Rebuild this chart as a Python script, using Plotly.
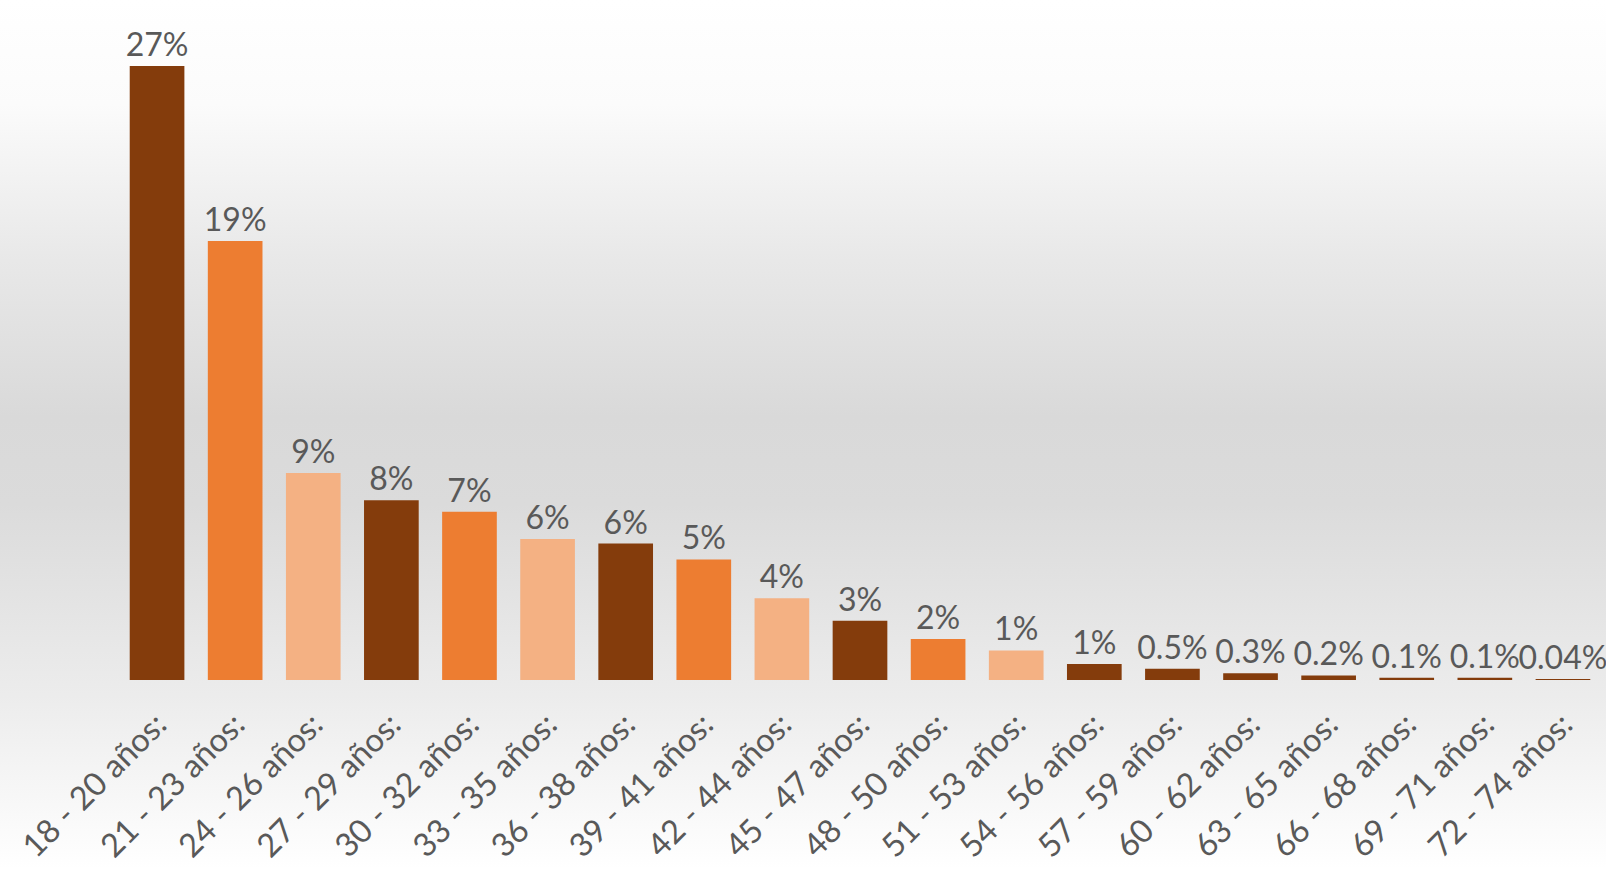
import base64
import plotly.graph_objects as go

categories = ["18 - 20 años:", "21 - 23 años:", "24 - 26 años:", "27 - 29 años:",
              "30 - 32 años:", "33 - 35 años:", "36 - 38 años:", "39 - 41 años:",
              "42 - 44 años:", "45 - 47 años:", "48 - 50 años:", "51 - 53 años:",
              "54 - 56 años:", "57 - 59 años:", "60 - 62 años:", "63 - 65 años:",
              "66 - 68 años:", "69 - 71 años:", "72 - 74 años:"]
values = [27.0, 19.3, 9.1, 7.9, 7.4, 6.2, 6.0, 5.3, 3.6, 2.6, 1.8, 1.3,
          0.7, 0.5, 0.3, 0.2, 0.1, 0.1, 0.04]
value_labels = ["27%", "19%", "9%", "8%", "7%", "6%", "6%", "5%", "4%", "3%",
                "2%", "1%", "1%", "0.5%", "0.3%", "0.2%", "0.1%", "0.1%", "0.04%"]

DARK, ORANGE, PEACH = "#843C0C", "#ED7D31", "#F4B183"
bar_colors = [DARK, ORANGE, PEACH] * 4 + [DARK] * 7

W, H = 1606, 869
M_L, M_R, M_T, M_B = 118, 4, 0, 189
plot_h = H - M_T - M_B
plot_w = W - M_L - M_R
FONT = "Lato, 'Open Sans', sans-serif"

svg = f'''<svg xmlns="http://www.w3.org/2000/svg" width="{W}" height="{H}" viewBox="0 0 {W} {H}" preserveAspectRatio="none">
<defs><linearGradient id="g" x1="0" y1="0" x2="0" y2="1">
<stop offset="0" stop-color="#FFFFFF"/>
<stop offset="0.12" stop-color="#FBFBFB"/>
<stop offset="0.30" stop-color="#E8E8E8"/>
<stop offset="0.48" stop-color="#D9D9D9"/>
<stop offset="0.58" stop-color="#DBDBDB"/>
<stop offset="0.80" stop-color="#ECECEC"/>
<stop offset="1" stop-color="#FFFFFF"/>
</linearGradient></defs>
<rect x="0" y="0" width="{W}" height="{H}" fill="url(#g)"/></svg>'''
uri = "data:image/svg+xml;base64," + base64.b64encode(svg.encode()).decode()

fig = go.Figure()
fig.add_trace(go.Bar(
    x=categories, y=values, marker=dict(color=bar_colors, line=dict(width=0)),
    text=value_labels, textposition="outside", cliponaxis=False,
    textfont=dict(family=FONT, size=32, color="#595959"),
    hoverinfo="skip",
))
fig.update_layout(
    width=W, height=H,
    margin=dict(l=M_L, r=M_R, t=M_T, b=M_B),
    paper_bgcolor="white", plot_bgcolor="rgba(0,0,0,0)",
    bargap=0.30, showlegend=False,
    uniformtext=dict(mode="show", minsize=32),
    images=[dict(source=uri, xref="paper", yref="paper",
                 x=-M_L / plot_w, y=1 + M_T / plot_h,
                 sizex=W / plot_w, sizey=H / plot_h,
                 sizing="stretch", xanchor="left", yanchor="top", layer="below")],
    xaxis=dict(range=[-0.5, 18.5], tickangle=-45, showgrid=False, zeroline=False,
               showline=False, ticks="", ticklabelstandoff=18,
               tickfont=dict(family=FONT, size=32.5, color="#595959")),
    yaxis=dict(range=[0, 29.9], visible=False, showgrid=False, zeroline=False),
)
fig.write_html("out.html", config={"displayModeBar": False},
               post_script="document.body.style.margin='0';document.body.style.overflow='hidden';")
